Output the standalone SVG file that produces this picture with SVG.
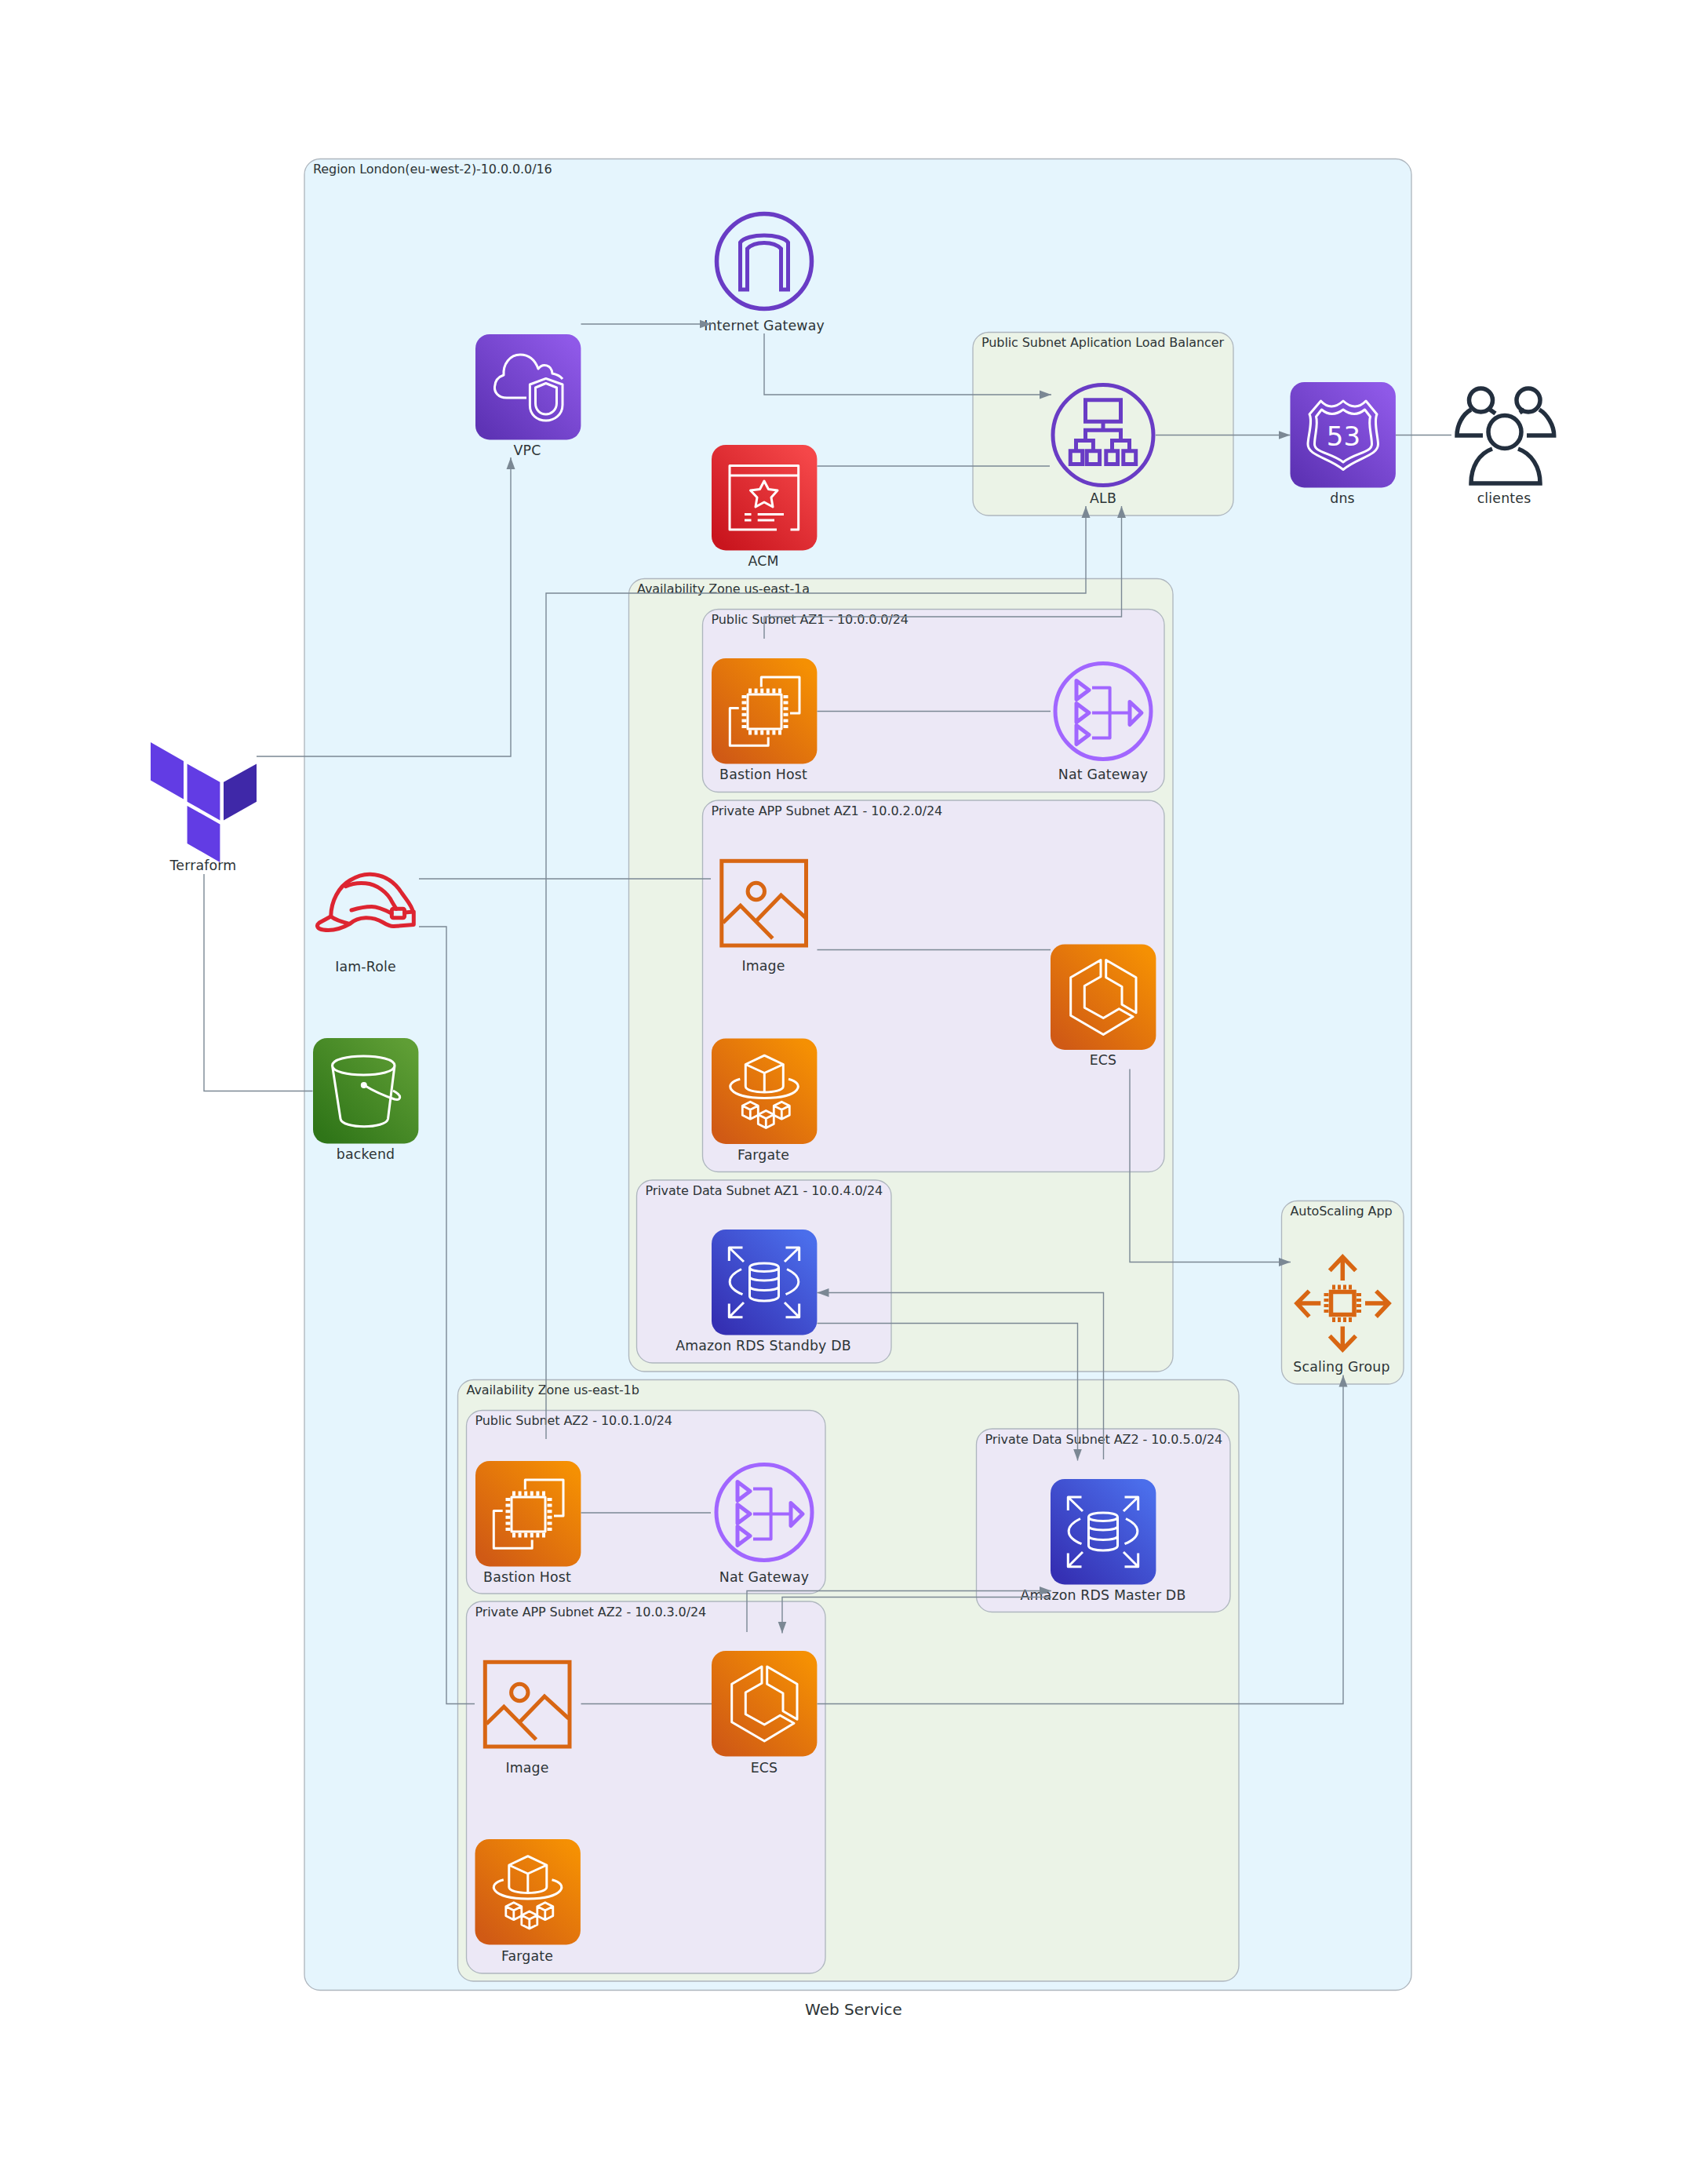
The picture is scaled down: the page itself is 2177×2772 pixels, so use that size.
<svg xmlns="http://www.w3.org/2000/svg" xmlns:xlink="http://www.w3.org/1999/xlink" width="2177" height="2772" viewBox="0 0 2177 2772">
<style>
text{font-family:"DejaVu Sans",sans-serif;fill:#2D3436}
.nl{font-size:17.33px;text-anchor:middle;letter-spacing:.18px}
.cl{font-size:16px;letter-spacing:-.09px}
.cap{font-size:20px;text-anchor:middle}
.c{stroke:#AEB6BE;stroke-width:1.33}
.region{fill:#E5F5FD}.az{fill:#EBF3E7}.sub{fill:#ECE8F6}
.e{fill:none;stroke:#7B8894;stroke-width:1.4}
.a{marker-end:url(#arrow)}
.w{fill:none;stroke:#fff;stroke-width:3;stroke-linejoin:round}
.wt{fill:none;stroke:#fff;stroke-width:2.8;stroke-linejoin:round}
</style>
<defs>
<marker id="arrow" markerUnits="userSpaceOnUse" markerWidth="16" markerHeight="12" refX="15" refY="6" orient="auto"><path d="M0 .5L15 6L0 11.5Z" fill="#7B8894"/></marker>
<linearGradient id="gO" x1="0" y1="1" x2="1" y2="0"><stop offset=".08" stop-color="#D05A15"/><stop offset=".92" stop-color="#F59003"/></linearGradient>
<linearGradient id="gP" x1="0" y1="1" x2="1" y2="0"><stop offset=".08" stop-color="#5E33B5"/><stop offset=".92" stop-color="#8F59E8"/></linearGradient>
<linearGradient id="gR" x1="0" y1="1" x2="1" y2="0"><stop offset=".08" stop-color="#C9151E"/><stop offset=".92" stop-color="#F54749"/></linearGradient>
<linearGradient id="gG" x1="0" y1="1" x2="1" y2="0"><stop offset=".08" stop-color="#2F7518"/><stop offset=".92" stop-color="#5F9E35"/></linearGradient>
<linearGradient id="gB" x1="0" y1="1" x2="1" y2="0"><stop offset=".08" stop-color="#3530B3"/><stop offset=".92" stop-color="#4B6EEB"/></linearGradient>
<g id="ec2">
<rect width="134.4" height="134.4" rx="18" fill="url(#gO)"/>
<path class="w" d="M63.3 36.6V24.1H112V70H100M34.7 63.4H23.3V111.2H72.2V100.4"/>
<rect class="w" x="46" y="46" width="43" height="44"/>
<path fill="none" stroke="#fff" stroke-width="6" stroke-dasharray="4 3.6" d="M47 41.5H89M47 94.5H89M41.5 47V89M94.5 47V89"/>
</g>
<g id="nat" fill="none" stroke="#A166FF" stroke-width="5" stroke-linejoin="round">
<circle r="61"/>
<path d="M-34 -39L-18 -27L-34 -15ZM-34 -10L-18 2L-34 14ZM-34 18L-18 30L-34 42ZM34 -12L49 2L34 17Z"/>
<path stroke-width="4" d="M-14 -30H8.6V34H-14M-14 2H34"/>
</g>
<g id="ecs">
<rect width="134.4" height="134.4" rx="18" fill="url(#gO)"/>
<path class="w" d="M64 20L25.7 42.3V90.7L67.3 115L105 92.3L87.3 82.3L67.3 94L43.3 80.7V53L64 41.3ZM70.7 20L109 42.3V87.3L91 76.7V54L70.7 42.3Z"/>
</g>
<g id="mini"><path class="wt" d="M0 -11L10 -6V6L0 11L-10 6V-6ZM-10 -6L0 -1L10 -6M0 -1V11"/></g>
<g id="fargate">
<rect width="134.4" height="134.4" rx="18" fill="url(#gO)"/>
<path class="w" d="M67.3 21.7L91.3 33L67.3 44L43.3 33ZM43.3 33V61C43.3 71 91.3 71 91.3 61V33M67.3 44V68M36.3 51.7C14 57 20 76 67.3 76C114 76 120 57 98 51.7"/>
<use xlink:href="#mini" href="#mini" x="49.3" y="91.7"/><use xlink:href="#mini" href="#mini" x="89.3" y="91.7"/><use xlink:href="#mini" href="#mini" x="69.3" y="103"/>
</g>
<g id="rds">
<rect width="134.4" height="134.4" rx="18" fill="url(#gB)"/>
<path class="w" d="M22.3 40V23H39.5M22.3 23L41 41M111.7 40V23H94.5M111.7 23L93 41M22.3 94.5V111.7H39.5M22.3 111.7L41 93M111.7 94.5V111.7H94.5M111.7 111.7L93 93"/>
<path class="w" d="M48.5 48.5C48.5 41 85.5 41 85.5 48.5V85C85.5 93 48.5 93 48.5 85ZM48.5 48.5C48.5 55 85.5 55 85.5 48.5M48.5 60C48.5 66.5 85.5 66.5 85.5 60M48.5 72.5C48.5 79 85.5 79 85.5 72.5"/>
<path class="w" d="M38 50.5C18 60 18 74 39.5 82.7M96 50.5C116 60 116 74 94.5 82.7"/>
</g>
<g id="img" fill="none" stroke="#D86613" stroke-width="5">
<rect x="2.3" y="2.3" width="107.7" height="107.7"/>
<circle cx="46.3" cy="41" r="10.7"/>
<path d="M4 81L26.3 59.3L67.3 101M47.3 77.7L78 46L109 74.3"/>
</g>
</defs>

<g id="clusters">
<g id="region"><rect class="c region" x="388" y="202.5" width="1411" height="2334" rx="20"/><text class="cl" x="399" y="221">Region London(eu-west-2)-10.0.0.0/16</text></g>
<g id="cluster-alb"><rect class="c az" x="1240" y="423.5" width="332" height="233.5" rx="20"/><text class="cl" x="1251" y="442">Public Subnet Aplication Load Balancer</text></g>
<g id="cluster-az1"><rect class="c az" x="801.5" y="737.5" width="693.5" height="1010.5" rx="20"/><text class="cl" x="812" y="756">Availability Zone us-east-1a</text></g>
<g id="cluster-pub1"><rect class="c sub" x="895.5" y="776.5" width="588.5" height="233" rx="20"/><text class="cl" x="906.5" y="795">Public Subnet AZ1 - 10.0.0.0/24</text></g>
<g id="cluster-app1"><rect class="c sub" x="895.5" y="1020" width="588.5" height="473.5" rx="20"/><text class="cl" x="906.5" y="1038.5">Private APP Subnet AZ1 - 10.0.2.0/24</text></g>
<g id="cluster-data1"><rect class="c sub" x="811.5" y="1504" width="324.5" height="233" rx="20"/><text class="cl" x="822.5" y="1522.5">Private Data Subnet AZ1 - 10.0.4.0/24</text></g>
<g id="cluster-scaling"><rect class="c az" x="1633.5" y="1530.5" width="155.5" height="233.5" rx="20"/><text class="cl" x="1644.5" y="1549">AutoScaling App</text></g>
<g id="cluster-az2"><rect class="c az" x="583.5" y="1758.5" width="995.5" height="766.5" rx="20"/><text class="cl" x="594.5" y="1777">Availability Zone us-east-1b</text></g>
<g id="cluster-pub2"><rect class="c sub" x="594.5" y="1797.5" width="457.5" height="233.5" rx="20"/><text class="cl" x="605.5" y="1816">Public Subnet AZ2 - 10.0.1.0/24</text></g>
<g id="cluster-app2"><rect class="c sub" x="594.5" y="2041" width="457.5" height="474" rx="20"/><text class="cl" x="605.5" y="2059.5">Private APP Subnet AZ2 - 10.0.3.0/24</text></g>
<g id="cluster-data2"><rect class="c sub" x="1244.5" y="1821" width="323.5" height="233.5" rx="20"/><text class="cl" x="1255.5" y="1839.5">Private Data Subnet AZ2 - 10.0.5.0/24</text></g>
</g>

<g id="igw"><g transform="translate(974 333)" fill="none" stroke="#693CC5" stroke-width="5.5"><circle r="60.5"/><path stroke-width="5" d="M-30.5 36V-24C-22 -36 22 -36 30.5 -24V36H21.5V-16C12 -26 -12 -26 -21.5 -16V36Z"/></g><text class="nl" x="974" y="420.5">Internet Gateway</text></g>

<g id="vpc"><g transform="translate(606 426)"><rect width="134.4" height="134.4" rx="18" fill="url(#gP)"/>
<path class="w" d="M65 81H40C28 81 24 73 24.5 67C25 59 30 54 36 52C35 38 44 26 57 26C69 26 76 33 80 44C86 36 97 39 98 50C103 51 108 53 111 57"/>
<path class="w" d="M89.8 56.4L111 64V90C111 103 100 110 90 110C79 110 69 103 69.4 90V64ZM89.8 62.5L103.5 68V88C103.5 97 96 102 89.8 102C83 102 76.5 97 76.5 88V68Z"/></g><text class="nl" x="672" y="580">VPC</text></g>

<g id="acm"><g transform="translate(907 567)"><rect width="134.4" height="134.4" rx="18" fill="url(#gR)"/>
<path class="w" d="M83 108H23V26.4H110.7V108H100.5M23 38.9H110.7M42 88.6H50.5M58.7 88.6H92M42 96H50.5M58.7 96H80"/>
<path class="w" d="M67 46L72.5 56.5L84 58L76 67L78 79L67 73L56 79L58 67L49.5 58L61.5 56.5Z"/></g><text class="nl" x="973" y="721">ACM</text></g>

<g id="alb"><g transform="translate(1406 554.5)" fill="none" stroke="#693CC5" stroke-width="5"><circle r="64"/>
<path d="M-22.5 -44.7H22.5V-17.3H-22.5ZM0 -17.3V-6.3M-22.5 7V-6.3H22.5V7M-34.5 20.3V7H-12.6V20.3M11.5 20.3V7H33.5V20.3M-41.7 20.3H-26.3V37H-41.7ZM-20.8 20.3H-4.4V37H-20.8ZM3.8 20.3H18.6V37H3.8ZM25.8 20.3H41.7V37H25.8Z"/></g><text class="nl" x="1406" y="641">ALB</text></g>

<g id="dns"><g transform="translate(1644.5 487)"><rect width="134.4" height="134.4" rx="18" fill="url(#gP)"/>
<path class="w" d="M39 24Q52 38 67.5 24Q83 38 96.5 24L110.5 41C106 50 112 70 112 79C112 94 86 96 67.5 111.5C49 96 22.5 94 22.5 79C22.5 70 29 50 24.5 41ZM40 35Q53 46 67.5 35Q82 46 95 35L102 44C99 54 104 68 104 79C104 90 83 90 67.5 102C52 90 31 90 31 79C31 68 36 54 33 44Z"/>
<text x="68" y="81" font-size="34" text-anchor="middle" style="fill:#fff">53</text></g><text class="nl" x="1711" y="641">dns</text></g>

<g id="clientes"><g fill="none" stroke="#232F3E" stroke-width="5.5"><circle cx="1887.5" cy="510" r="15"/><circle cx="1948" cy="510" r="15"/><circle cx="1918" cy="550.5" r="21"/>
<path d="M1902 572C1885 578 1875 595 1875 616H1963C1963 595 1952 578 1935 572M1875 522C1864 528 1857 542 1857 555H1890M1962 522C1972 528 1980.7 542 1980.7 555H1946M1899 522L1906 527M1937 526L1943 522"/></g><text class="nl" x="1917" y="641">clientes</text></g>

<g id="terraform"><path fill="#623CE4" d="M192 946L234 970V1018.6L192 994.5ZM238.6 973.5L280.4 996.8V1045.4L238.6 1021.7ZM238.6 1027L280.4 1050.4V1099L238.6 1075Z"/><path fill="#3F28A8" d="M285 996.8L327 973.5V1021.7L285 1045.4Z"/><text class="nl" x="259" y="1109">Terraform</text></g>

<g id="iam"><g fill="none" stroke="#DD2531" stroke-width="5" stroke-linejoin="round" stroke-linecap="round">
<path d="M421.7 1168C422 1148 432 1130 446 1122C456 1116 464 1114 472 1114.3C490 1115 503 1124 512 1138C519 1148 525 1154 526.3 1162M440.6 1129.6C450 1125.5 458 1125 466 1125.8C480 1127 494 1137 500 1150L505 1158.3"/>
<path d="M421.7 1168L407 1176C402 1180 405 1184 412 1185C425 1187 436 1183 445.7 1177.5C452 1172 459 1170 466 1169.8C476 1169.5 482 1172 488 1175.5C493 1178.5 497 1181 501.8 1180.5L527.3 1178.6V1162L515.6 1163M421.7 1168C428 1173 436 1175 445.7 1177.5M448 1160C458 1157 466 1155.6 473.8 1155.6C482 1155.6 491 1160 499 1164"/>
<rect x="499.3" y="1158.3" width="16.3" height="11.5" rx="2"/></g><text class="nl" x="466" y="1237.5">Iam-Role</text></g>

<g id="backend"><g transform="translate(399 1323)"><rect width="134.4" height="134.4" rx="18" fill="url(#gG)"/>
<path class="w" d="M24.5 35C24.5 19 104 19 104 35C104 51 24.5 51 24.5 35ZM24.5 35L35 103C37 116 93 116 95.5 103L104 35"/>
<circle cx="64.8" cy="60" r="4" fill="#fff"/>
<path class="w" d="M65 60C78 68 92 74 104 78C112 80 112 74 108 71C106 69 104 68 102 67"/></g><text class="nl" x="466" y="1477">backend</text></g>

<g id="bastion1"><use xlink:href="#ec2" href="#ec2" x="907" y="839"/><text class="nl" x="973" y="993">Bastion Host</text></g>
<g id="nat1"><use xlink:href="#nat" href="#nat" x="1406" y="906.5"/><text class="nl" x="1406" y="993">Nat Gateway</text></g>
<g id="image1"><use xlink:href="#img" href="#img" x="917.5" y="1095"/><text class="nl" x="973" y="1236.5">Image</text></g>
<g id="ecs1"><use xlink:href="#ecs" href="#ecs" x="1339" y="1203.5"/><text class="nl" x="1406" y="1357">ECS</text></g>
<g id="fargate1"><use xlink:href="#fargate" href="#fargate" x="907" y="1323.5"/><text class="nl" x="973" y="1478">Fargate</text></g>
<g id="rds-standby"><use xlink:href="#rds" href="#rds" x="907" y="1567"/><text class="nl" x="973" y="1721">Amazon RDS Standby DB</text></g>

<g id="scaling"><g fill="none" stroke="#D86613" stroke-width="5.5"><rect x="1696.5" y="1646.5" width="29.5" height="29"/>
<path stroke-width="6" stroke-dasharray="4 3" d="M1698 1640.5H1725M1698 1682H1725M1690.5 1648V1675M1732 1648V1675"/>
<path d="M1711.3 1632V1602M1694.8 1619.4L1711.3 1602L1728 1619.4M1711.3 1690.5V1720M1694.8 1702.6L1711.3 1720L1728 1702.6M1683.3 1661H1653M1668.6 1645.4L1653 1661L1668.6 1678M1740 1661H1770M1754 1645.4L1770 1661L1754 1678"/></g><text class="nl" x="1710" y="1748">Scaling Group</text></g>

<g id="bastion2"><use xlink:href="#ec2" href="#ec2" x="606" y="1862"/><text class="nl" x="672" y="2016">Bastion Host</text></g>
<g id="nat2"><use xlink:href="#nat" href="#nat" x="974" y="1927.5"/><text class="nl" x="974" y="2016">Nat Gateway</text></g>
<g id="rds-master"><use xlink:href="#rds" href="#rds" x="1339" y="1885"/><text class="nl" x="1406" y="2039">Amazon RDS Master DB</text></g>
<g id="image2"><use xlink:href="#img" href="#img" x="616" y="2116"/><text class="nl" x="672" y="2259">Image</text></g>
<g id="ecs2"><use xlink:href="#ecs" href="#ecs" x="907" y="2104"/><text class="nl" x="974" y="2259">ECS</text></g>
<g id="fargate2"><use xlink:href="#fargate" href="#fargate" x="605.5" y="2344"/><text class="nl" x="672" y="2499">Fargate</text></g>

<g id="connectors">
<path class="e a" d="M740.5 413H906.5"/>
<path class="e a" d="M974 425V503H1340"/>
<path class="e" d="M1041.5 594H1338"/>
<path class="e a" d="M1473 554.5H1644.5"/>
<path class="e" d="M1779 554.5H1850"/>
<path class="e a" d="M696 1834V756H1384V645"/>
<path class="e a" d="M974 814V786H1429.5V645"/>
<path class="e" d="M1041.5 906.5H1339"/>
<path class="e" d="M1041.5 1210.5H1339"/>
<path class="e" d="M534 1120H906"/>
<path class="e" d="M534 1181H569V2171.5H605"/>
<path class="e a" d="M327 964H651V583"/>
<path class="e" d="M260 1114V1390.5H398.5"/>
<path class="e a" d="M1440 1362.5V1608.5H1645"/>
<path class="e a" d="M1406.5 1860V1647.5H1041.5"/>
<path class="e a" d="M1041.5 1686.5H1373.5V1861.5"/>
<path class="e" d="M740.5 1928H906"/>
<path class="e" d="M740.5 2171.5H907"/>
<path class="e a" d="M1041.5 2171.5H1712V1752.5"/>
<path class="e a" d="M952 2080V2027.5H1340"/>
<path class="e a" d="M1340 2035.5H997V2081.5"/>
</g>
<text class="cap" x="1088" y="2568">Web Service</text>
</svg>
